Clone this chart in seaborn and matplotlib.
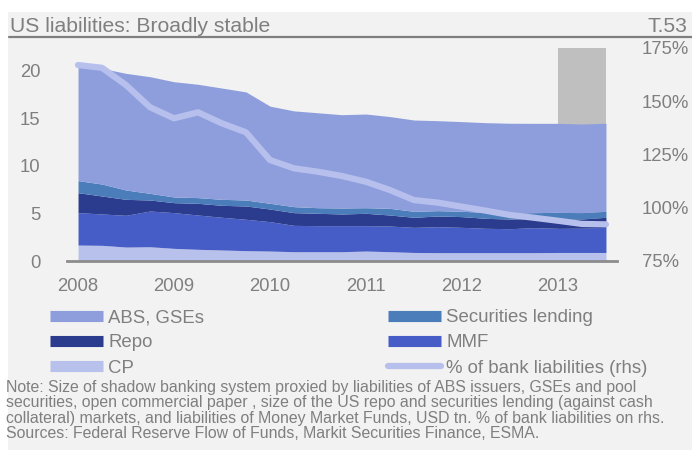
import matplotlib
matplotlib.use("Agg")
import matplotlib.pyplot as plt
from matplotlib.lines import Line2D
from matplotlib.patches import Rectangle
import numpy as np
import pandas as pd
import seaborn as sns

# Quarterly observations, 2008Q1 .. 2013Q3
quarters = [f"{y}Q{q}" for y in range(2008, 2014) for q in range(1, 5)][:23]
year_ticks = ["2008", "2009", "2010", "2011", "2012", "2013"]

# USD tn, stacked from bottom to top
cp = [1.68, 1.65, 1.47, 1.50, 1.33, 1.23, 1.16, 1.09, 1.05, 0.98, 0.98, 0.98,
      1.05, 0.98, 0.90, 0.88, 0.88, 0.88, 0.88, 0.88, 0.90, 0.90, 0.90]
mmf = [3.41, 3.30, 3.34, 3.76, 3.76, 3.61, 3.44, 3.30, 3.09, 2.77, 2.74, 2.74,
       2.67, 2.70, 2.64, 2.73, 2.66, 2.56, 2.52, 2.63, 2.54, 2.57, 2.64]
repo = [2.10, 1.89, 1.68, 1.16, 1.05, 1.23, 1.26, 1.40, 1.33, 1.34, 1.30, 1.23,
        1.30, 1.16, 1.06, 1.13, 1.13, 1.05, 1.02, 0.98, 0.95, 0.95, 1.06]
sec_lending = [1.27, 1.26, 0.98, 0.70, 0.60, 0.60, 0.63, 0.63, 0.60, 0.63, 0.59, 0.63,
               0.59, 0.70, 0.63, 0.56, 0.56, 0.63, 0.63, 0.60, 0.73, 0.67, 0.63]
abs_gse = [12.14, 12.18, 12.28, 12.28, 12.13, 11.93, 11.71, 11.38, 10.23, 10.08, 9.99, 9.82,
           9.86, 9.66, 9.61, 9.47, 9.44, 9.44, 9.45, 9.40, 9.37, 9.33, 9.27]
# % of bank liabilities (right-hand scale)
pct_bank = [167.0, 165.7, 157.6, 147.2, 142.0, 144.8, 139.6, 135.4, 122.4, 118.5, 116.9, 114.9,
            112.2, 108.3, 103.6, 102.4, 100.5, 98.6, 96.6, 95.3, 93.9, 92.4, 92.2]

# Shaded period
shaded = ("2013Q1", "2013Q3")

title = "US liabilities: Broadly stable"
chart_id = "T.53"
note = ("Note: Size of shadow banking system proxied by liabilities of ABS issuers, GSEs and pool\n"
        "securities, open commercial paper , size of the US repo and securities lending (against cash\n"
        "collateral) markets, and liabilities of Money Market Funds, USD tn. % of bank liabilities on rhs.\n"
        "Sources: Federal Reserve Flow of Funds, Markit Securities Finance, ESMA.")

series_names = ["CP", "MMF", "Repo", "Securities lending", "ABS, GSEs"]
series_colors = ["#B8C1EB", "#465CC6", "#2B3C8E", "#4A7DBA", "#8E9EDD"]
line_color = "#B7C0EC"
text_gray = "#7F7F7F"
panel_bg = "#F2F2F2"

sns.set_theme(style="white")
plt.rcParams["font.family"] = ["Liberation Sans", "DejaVu Sans"]

df = pd.DataFrame({"quarter": quarters, "CP": cp, "MMF": mmf, "Repo": repo,
                   "Securities lending": sec_lending, "ABS, GSEs": abs_gse,
                   "pct": pct_bank})
df["x"] = np.arange(len(df))

fig = plt.figure(figsize=(6.92, 4.50), dpi=100, facecolor="white")
W, H = 692.0, 450.0

# grey panel behind everything
fig.patches.append(Rectangle((8 / W, 0), 1 - 8 / W, 1 - 12 / H, transform=fig.transFigure,
                             facecolor=panel_bg, edgecolor="none", zorder=-10))

ax = fig.add_axes([67 / W, 1 - 261 / H, (617 - 67) / W, (261 - 48) / H])
ax.set_facecolor("none")

x0, x1 = quarters.index(shaded[0]), quarters.index(shaded[1])
ax.axvspan(x0, x1, color="#BFBFBF", lw=0, zorder=0)

ax.stackplot(df["x"], *[df[n] for n in series_names], colors=series_colors,
             linewidth=0, zorder=1)

ax.set_xlim(-0.46, len(df) - 1 + 0.46)
ax.set_ylim(0, 22.42)
ax.set_yticks([0, 5, 10, 15, 20])
year_pos = [quarters.index(f"{y}Q1") for y in year_ticks]
ax.set_xticks(year_pos)
ax.set_xticklabels(year_ticks)
for s in ["top", "left", "right"]:
    ax.spines[s].set_visible(False)
ax.spines["bottom"].set_color("#8C8C8C")
ax.spines["bottom"].set_linewidth(2)
ax.tick_params(axis="both", length=0, labelsize=13.3, colors=text_gray)
ax.tick_params(axis="y", pad=19)
ax.tick_params(axis="x", pad=12)

ax2 = ax.twinx()
sns.lineplot(data=df, x="x", y="pct", ax=ax2, color=line_color, linewidth=4.5,
             solid_capstyle="round", solid_joinstyle="round", legend=False)
ax2.set_ylim(75, 175)
ax2.set_yticks([75, 100, 125, 150, 175])
ax2.set_yticklabels([f"{v}%" for v in [75, 100, 125, 150, 175]])
ax2.set_xlabel("")
ax2.set_ylabel("")
for s in ["top", "left", "right", "bottom"]:
    ax2.spines[s].set_visible(False)
ax2.tick_params(axis="y", length=0, labelsize=13.3, colors=text_gray, pad=18)
ax2.set_facecolor("none")

# title row
fig.text(10 / W, 1 - 32 / H, title, fontsize=15.2, color=text_gray, va="baseline", ha="left")
fig.text(687 / W, 1 - 32 / H, chart_id, fontsize=15.2, color=text_gray, va="baseline", ha="right")
fig.lines.append(Line2D([9 / W, 1], [1 - 37 / H, 1 - 37 / H], transform=fig.transFigure,
                        color=text_gray, linewidth=1.6))

# legend, two columns
def patch_handle(c):
    return Line2D([], [], color=c, linewidth=8, solid_capstyle="butt")

color_of = dict(zip(series_names, series_colors))
left_items = [("ABS, GSEs", patch_handle(color_of["ABS, GSEs"])),
              ("Repo", patch_handle(color_of["Repo"])),
              ("CP", patch_handle(color_of["CP"]))]
right_items = [("Securities lending", patch_handle(color_of["Securities lending"])),
               ("MMF", patch_handle(color_of["MMF"])),
               ("% of bank liabilities (rhs)",
                Line2D([], [], color=line_color, linewidth=4.5, solid_capstyle="round"))]

for items, xpos in [(left_items, 50), (right_items, 388)]:
    leg = fig.legend([h for _, h in items], [l for l, _ in items], loc="upper left",
                     bbox_to_anchor=(xpos / W, 1 - 309 / H), frameon=False, fontsize=13.4,
                     handlelength=2.85, handletextpad=0.28, labelspacing=0.45,
                     borderpad=0, borderaxespad=0, labelcolor=text_gray)

fig.text(6 / W, 1 - 380 / H, note, fontsize=11.4, color=text_gray, va="top", ha="left",
         linespacing=1.04)

fig.savefig("out.png", dpi=100, facecolor=fig.get_facecolor())
